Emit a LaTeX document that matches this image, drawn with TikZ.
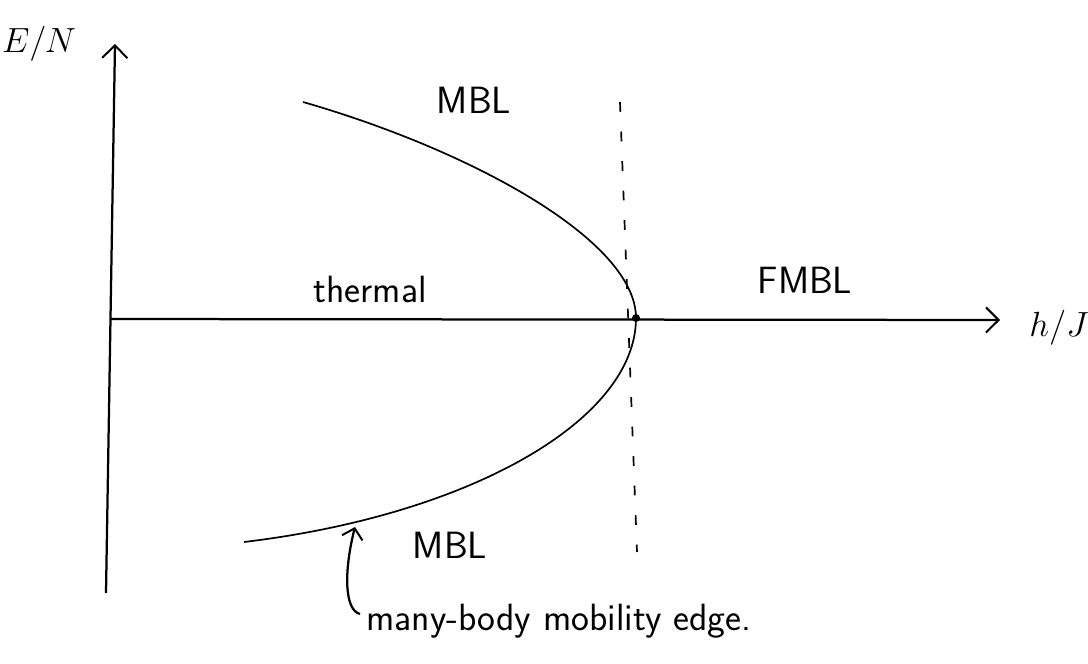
\documentclass[tikz,border=0pt]{standalone}
\usetikzlibrary{arrows.meta}
\begin{document}
\begin{tikzpicture}[x=0.025cm,y=-0.025cm,
  lbl/.style={font=\sffamily\fontsize{27}{30}\selectfont,inner sep=0pt},
  axislbl/.style={font=\fontsize{29}{34}\selectfont,inner sep=0pt},
  axis/.style={line width=1.6pt,-{Straight Barb[length=9pt,width=18pt,line width=1.4pt]}},
  pointer/.style={line width=1.6pt,-{Straight Barb[length=7pt,width=15pt,line width=1.4pt]}}]
  \useasboundingbox (0,0) rectangle (1088,664);
  % axes
  \coordinate (O) at (110,319);
  \coordinate (ybot) at (106,593);
  \coordinate (ytop) at (115,44);
  \coordinate (xtip) at (1000,320);
  \draw[axis] (ybot) -- (ytop);
  \draw[axis] (O) -- (xtip);
  \node[axislbl] (EN) at (39,44) {$E/N$};
  \node[axislbl] (hJ) at (1059,328) {$h/J$};
  % mobility edge
  \coordinate (mtop) at (303,102);
  \coordinate (vtx) at (636,318);
  \coordinate (mbot) at (244,542);
  \draw[line width=1.2pt] (mtop) .. controls (470,150) and (636,240) .. (vtx)
    .. controls (636,420) and (470,515) .. (mbot);
  \fill (vtx) circle (4);
  \coordinate (dtop) at (620,102);
  \coordinate (dbot) at (637,552);
  \draw[line width=1.2pt,dash pattern=on 7pt off 14pt] (dtop) -- (dbot);
  % phases
  \node[lbl,anchor=base] (mbltop) at (474,113) {MBL};
  \node[lbl,anchor=base] (thermal) at (370,302) {thermal};
  \node[lbl,anchor=base] (fmbl) at (805,293) {FMBL};
  \node[lbl,anchor=base] (mblbot) at (450,558) {MBL};
  \node[lbl,anchor=base west] (edge) at (366,630) {many-body mobility edge.};
  \coordinate (hook) at (360,614);
  \coordinate (hit) at (355,527);
  \draw[pointer] (hook) .. controls (344,610) and (344,570) .. (hit);
\end{tikzpicture}
\end{document}
